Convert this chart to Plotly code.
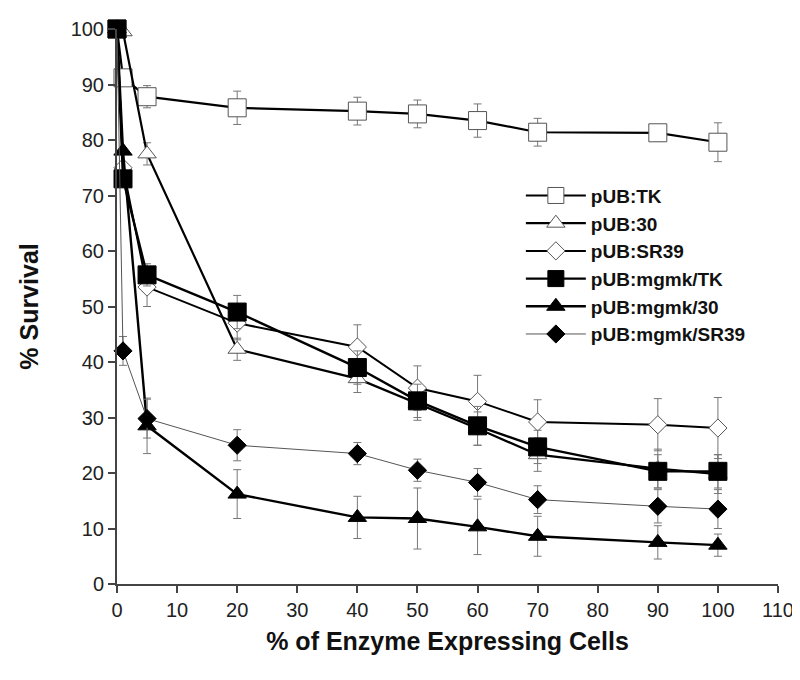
import plotly.graph_objects as go

x_vals = [0, 1, 5, 20, 40, 50, 60, 70, 90, 100]

names = ["pUB:TK", "pUB:30", "pUB:SR39", "pUB:mgmk/TK", "pUB:mgmk/30", "pUB:mgmk/SR39"]

tk = [100, 91.2, 87.8, 85.8, 85.2, 84.7, 83.5, 81.4, 81.3, 79.6]
tk_err = [0, 0, 2, 3, 2.5, 2.5, 3, 2.5, 1.5, 3.5]
p30 = [100, 99.5, 77.5, 42.3, 37.0, 32.5, 28.0, 23.3, 20.8, 19.8]
p30_err = [0, 0, 2, 2, 2.5, 3, 3, 3, 3.5, 3.5]
sr39 = [100, 75, 53.5, 47.0, 42.7, 35.3, 32.9, 29.2, 28.7, 28.1]
sr39_err = [0, 0, 3.5, 3, 4, 4, 4.7, 4, 4.7, 5.5]
mtk = [100, 73, 55.7, 49.0, 39.0, 33.0, 28.5, 24.7, 20.3, 20.3]
mtk_err = [0, 0, 2, 3, 3, 3, 3.5, 3, 3, 3]
m30 = [100, 78, 28.5, 16.2, 12.0, 11.8, 10.3, 8.6, 7.5, 7.0]
m30_err = [0, 0, 5, 4.4, 3.8, 5.5, 5, 3.6, 3, 2]
msr = [100, 42, 29.8, 25.0, 23.5, 20.5, 18.3, 15.2, 14.0, 13.5]
msr_err = [0, 2.6, 3.5, 2.8, 2, 2, 2.5, 2.5, 3, 3.5]

series = [tk, p30, sr39, mtk, m30, msr]
errors = [tk_err, p30_err, sr39_err, mtk_err, m30_err, msr_err]

styles = [
    dict(symbol="square", size=18, fill="white", edge="#555555", lw=2.2, lc="black"),
    dict(symbol="triangle-up", size=16, fill="white", edge="#555555", lw=2.2, lc="black"),
    dict(symbol="diamond", size=14, fill="white", edge="#555555", lw=2.0, lc="black"),
    dict(symbol="square", size=18, fill="black", edge="black", lw=2.4, lc="black"),
    dict(symbol="triangle-up", size=16, fill="black", edge="black", lw=2.4, lc="black"),
    dict(symbol="diamond", size=14, fill="black", edge="black", lw=1.0, lc="#555555"),
]

FONT = "Liberation Sans, Arial, sans-serif"

fig = go.Figure()
for name, ys, es, st in zip(names, series, errors, styles):
    fig.add_trace(go.Scatter(
        x=x_vals, y=ys, name=name, mode="lines+markers",
        legendgroup=name,
        line=dict(color=st["lc"], width=st["lw"]),
        marker=dict(symbol=st["symbol"], size=st["size"], color=st["fill"],
                    line=dict(color=st["edge"], width=1)),
        error_y=dict(type="data", array=es, visible=True, color="#777777",
                     thickness=1, width=4),
        cliponaxis=False,
    ))

axis_common = dict(
    showline=True, linecolor="#444444", linewidth=2,
    ticks="outside", ticklen=7, tickwidth=2, tickcolor="#444444",
    showgrid=False, zeroline=False, automargin=False,
    tickfont=dict(family=FONT, size=20, color="#222222"),
)

fig.update_layout(
    width=800, height=680,
    margin=dict(l=109, r=30, t=21, b=104),
    paper_bgcolor="white", plot_bgcolor="white",
    xaxis=dict(range=[0, 110], tickmode="linear", tick0=0, dtick=10,
               title=dict(text="<b>% of Enzyme Expressing Cells</b>",
                          font=dict(family=FONT, size=25, color="#111111"),
                          standoff=12),
               **axis_common),
    yaxis=dict(range=[0, 100], tickmode="linear", tick0=0, dtick=10,
               title=dict(text="<b>% Survival</b>",
                          font=dict(family=FONT, size=25, color="#111111"),
                          standoff=25),
               **axis_common),
    legend=dict(x=0.611, y=0.734, xanchor="left", yanchor="top",
                bgcolor="rgba(0,0,0,0)", itemwidth=60, tracegroupgap=0,
                font=dict(family=FONT, size=19, color="#111111", weight="bold"),
                traceorder="grouped"),
    showlegend=True,
)

fig.write_html("out.html")
